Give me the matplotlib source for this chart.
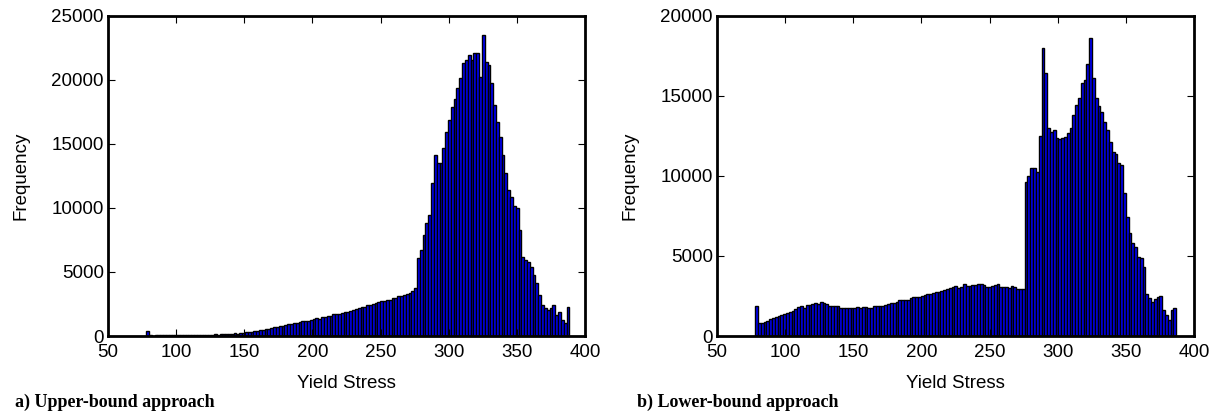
import numpy as np
import matplotlib
matplotlib.use("Agg")
import matplotlib.pyplot as plt

# ---------------- data ----------------
n_bins = 150
upper_range = (78.0, 388.5)
lower_range = (78.0, 387.0)

upper_counts = [
    380,
    40, 35, 45, 40, 50, 45, 40, 50, 55, 45, 50, 60, 55, 50, 60, 65, 55, 60, 70, 65, 75, 80,
    110, 120, 115, 130, 125, 140, 150, 170, 200, 180, 260, 240, 320, 300, 350, 380, 420, 430,
    480, 520, 560, 650, 700, 720, 780, 800, 850, 900, 960, 1000, 1040, 1100, 1150, 1200, 1180,
    1250, 1300, 1400, 1350, 1450, 1500, 1550, 1600, 1700, 1680, 1750, 1800, 1850, 1900, 1950,
    2050, 2100, 2200, 2250, 2300, 2400, 2450, 2500, 2550, 2650, 2700, 2750, 2800, 2850, 2950,
    3000, 3100, 3150, 3200, 3300, 3350, 3500, 3750,
    6080, 6720, 7900, 8800, 9450, 11950, 14140, 13500, 13550, 14680, 15960, 16875, 17890,
    18500, 19370, 20150, 21300, 21600, 21950, 21600, 22100, 22100, 20200, 23500, 21400, 21150,
    19750, 18050, 16740, 15570, 14140, 12730, 11400, 10880, 10160, 10000, 8280, 6200, 5940,
    5810, 5420, 4770, 4140, 3200, 2420, 2190, 2060, 2190, 2420, 1640, 1900, 1250, 1000, 2240,
]

lower_counts = [
    1875, 830, 840, 880, 950, 1060, 1150, 1200, 1240, 1300, 1380, 1420, 1520, 1560, 1700, 1800,
    1850, 1780, 1930, 1960, 2020, 2060, 2000, 2150, 2080, 2000, 1900, 1850, 1880, 1900, 1750,
    1750, 1750, 1760, 1730, 1780, 1790, 1760, 1800, 1830, 1760, 1770, 1870, 1870, 1870, 1900,
    1920, 2000, 2050, 2080, 2150, 2230, 2250, 2250, 2280, 2400, 2450, 2420, 2430, 2500, 2560,
    2620, 2650, 2700, 2730, 2780, 2800, 2850, 2920, 2980, 3080, 3120, 2980, 3050, 3230, 3150,
    3120, 3180, 3180, 3220, 3230, 3180, 3080, 3050, 3120, 3200, 3230, 3060, 3090, 3060, 3000,
    3100, 3050, 2950, 2950, 2960,
    9650, 10000, 10520, 10520, 10270, 12500, 17980, 16420, 12980, 12770, 12850, 12350, 12300,
    12350, 12440, 12700, 13000, 13810, 14440, 14900, 15790, 16000, 17000, 18600, 16100, 14900,
    14400, 14020, 13400, 12875, 12150, 11520, 11400, 10800, 10700, 8960, 7460, 6420, 5790,
    5540, 4960, 4900, 4330, 2625, 2350, 2150, 2290, 2460, 2480, 1625, 1310, 1000, 1625, 1730,
]

x_ticks = [50, 100, 150, 200, 250, 300, 350, 400]
upper_yticks = [0, 5000, 10000, 15000, 20000, 25000]
lower_yticks = [0, 5000, 10000, 15000, 20000]
x_label = "Yield Stress"
y_label = "Frequency"
captions = ["a) Upper-bound approach", "b) Lower-bound approach"]

# ---------------- figure ----------------
plt.rcParams['font.family'] = ['Liberation Sans', 'DejaVu Sans']

fig = plt.figure(figsize=(12.15, 4.11), dpi=100)
ax1 = fig.add_axes([108 / 1215, 75 / 411, 477 / 1215, 320 / 411])
ax2 = fig.add_axes([717 / 1215, 75 / 411, 477 / 1215, 320 / 411])


def draw(ax, counts, rng, yticks, ymax):
    edges = np.linspace(rng[0], rng[1], n_bins + 1)
    ax.hist(edges[:-1], bins=edges, weights=counts, color='#0000ff',
            edgecolor='black', linewidth=1.0)
    ax.set_xlim(50, 400)
    ax.set_ylim(0, ymax)
    ax.set_xticks(x_ticks)
    ax.set_yticks(yticks)
    ax.tick_params(direction='in', top=True, right=True, length=5, width=0.8,
                   labelsize=13.5)
    ax.tick_params(axis='x', pad=6)
    ax.tick_params(axis='y', pad=3)
    for s in ax.spines.values():
        s.set_linewidth(2.0)
    ax.set_xlabel(x_label, fontsize=13.5, labelpad=10)
    ax.set_ylabel(y_label, fontsize=13.5, labelpad=16)


draw(ax1, upper_counts, upper_range, upper_yticks, 25000)
draw(ax2, lower_counts, lower_range, lower_yticks, 20000)

fig.text(15 / 1215, 1 - 407 / 411, captions[0], family='Liberation Serif',
         fontweight='bold', fontsize=13, va='baseline', ha='left')
fig.text(637 / 1215, 1 - 407 / 411, captions[1], family='Liberation Serif',
         fontweight='bold', fontsize=13, va='baseline', ha='left')

fig.savefig("out.png", dpi=100)
